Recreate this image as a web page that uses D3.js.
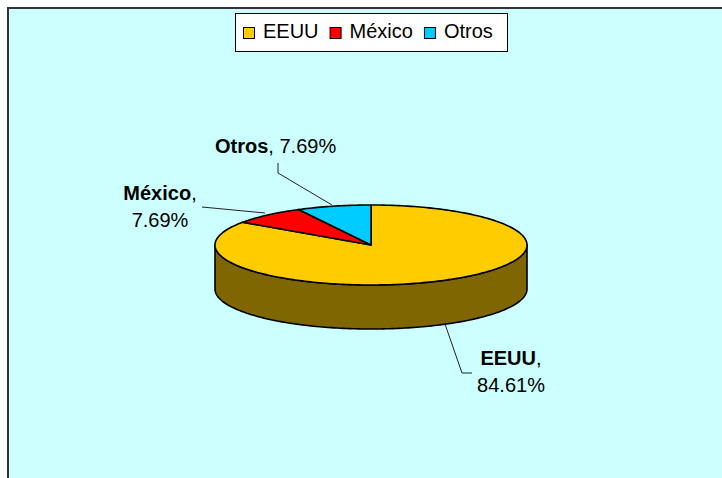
<!DOCTYPE html>
<html>
<head>
<meta charset="utf-8">
<script src="https://cdn.jsdelivr.net/npm/d3@7/dist/d3.min.js"></script>
<style>
  body { margin: 0; background: #fff; }
  svg { display: block; font-family: Arial, "Liberation Sans", sans-serif; }
</style>
</head>
<body>
<div id="chart-area"></div>
<script>

// data
var categories = ["EEUU", "México", "Otros"];
var shares = [84.61, 7.69, 7.69];
var topColors = ["#FFCC00", "#FF0000", "#00CCFF"];
var sideColors = ["#806600", "#800000", "#006680"];

var width = 722, height = 478;

var svg = d3.select("#chart-area").append("svg")
    .attr("width", width)
    .attr("height", height);

// chart area
svg.append("rect")
    .attr("x", 8).attr("y", 8)
    .attr("width", 800).attr("height", 600)
    .attr("fill", "#CCFFFF")
    .attr("stroke", "#333")
    .attr("stroke-width", 2);

// 3d pie geometry
var cx = 371, cy = 245, rx = 156, ry = 40, depth = 44;

function pt(a, dy) {
  return [cx + rx * Math.sin(a), cy - ry * Math.cos(a) + (dy || 0)];
}

function arcPts(a0, a1, dy) {
  var n = Math.max(2, Math.ceil(Math.abs(a1 - a0) / 0.02));
  var pts = [];
  for (var i = 0; i <= n; i++) pts.push(pt(a0 + (a1 - a0) * i / n, dy));
  return pts;
}

var line = d3.line();

var pie = d3.pie().sort(null).startAngle(0).endAngle(2 * Math.PI);
var arcs = pie(shares);

var pieG = svg.append("g");

// side walls (only the front half is visible)
arcs.forEach(function(d, i) {
  var a0 = Math.max(d.startAngle, Math.PI / 2),
      a1 = Math.min(d.endAngle, 3 * Math.PI / 2);
  if (a1 <= a0) return;
  var pts = arcPts(a0, a1, 0).concat(arcPts(a1, a0, depth));
  pieG.append("path")
      .attr("d", line(pts) + "Z")
      .attr("fill", sideColors[i])
      .attr("stroke", "#000")
      .attr("stroke-width", 1.6)
      .attr("stroke-linejoin", "round");
});

// top faces
arcs.forEach(function(d, i) {
  var pts = [[cx, cy]].concat(arcPts(d.startAngle, d.endAngle, 0));
  pieG.append("path")
      .attr("d", line(pts) + "Z")
      .attr("fill", topColors[i])
      .attr("stroke", "#000")
      .attr("stroke-width", 1.6)
      .attr("stroke-linejoin", "round");
});

// data labels with leader lines
var fmt = function(v) { return d3.format(".2f")(v) + "%"; };

var labels = [
  { lines: [[445, 324], [462, 373], [472, 373]], x: 511, y: 365, two: true },
  { lines: [[265, 213], [202, 207]], x: 160, y: 200, two: true },
  { lines: [[332, 205], [278, 173], [278, 163]], x: 215, y: 153, two: false }
];

labels.forEach(function(l, i) {
  svg.append("path")
      .attr("d", line(l.lines))
      .attr("fill", "none")
      .attr("stroke", "#222")
      .attr("stroke-width", 1);

  if (l.two) {
    var t = svg.append("text")
        .attr("x", l.x).attr("y", l.y)
        .attr("text-anchor", "middle")
        .attr("font-size", 20);
    t.append("tspan").attr("font-weight", "bold").text(categories[i]);
    t.append("tspan").text(",");
    svg.append("text")
        .attr("x", l.x).attr("y", l.y + 27)
        .attr("text-anchor", "middle")
        .attr("font-size", 20)
        .text(fmt(shares[i]));
  } else {
    var t2 = svg.append("text")
        .attr("x", l.x).attr("y", l.y)
        .attr("font-size", 20);
    t2.append("tspan").attr("font-weight", "bold").text(categories[i]);
    t2.append("tspan").text(", " + fmt(shares[i]));
  }
});

// legend
var legend = svg.append("g");
legend.append("rect")
    .attr("x", 235.5).attr("y", 13.5)
    .attr("width", 272).attr("height", 38)
    .attr("fill", "#fff")
    .attr("stroke", "#000")
    .attr("stroke-width", 1);

var lx = 243;
categories.forEach(function(c, i) {
  legend.append("rect")
      .attr("x", lx + 0.5).attr("y", 27.5)
      .attr("width", 11).attr("height", 11)
      .attr("fill", topColors[i])
      .attr("stroke", "#000")
      .attr("stroke-width", 1);
  var txt = legend.append("text")
      .attr("x", lx + 20).attr("y", 38)
      .attr("font-size", 20)
      .text(c);
  lx += 20 + txt.node().getComputedTextLength() + 11;
});

</script>
</body>
</html>
